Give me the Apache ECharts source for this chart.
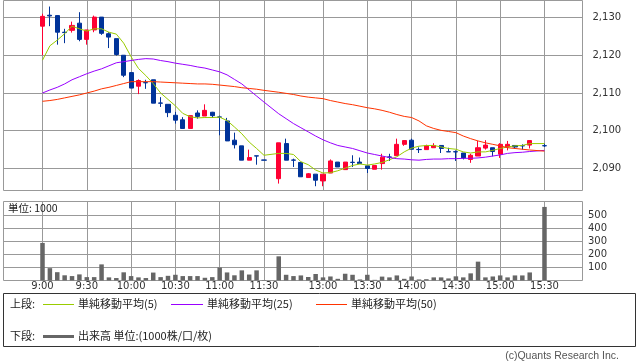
<!DOCTYPE html>
<html>
<head>
<meta charset="utf-8">
<script src="https://cdn.jsdelivr.net/npm/echarts@6/dist/echarts.min.js"></script>
<style>
html,body{margin:0;padding:0;background:#fff;}
#c{width:638px;height:362px;}
</style>
</head>
<body>
<div id="c"></div>
<script>
// ---- categories (5-minute slots; '' = break slot) ----
const times = ['9:00','9:05','9:10','9:15','9:20','9:25','9:30','9:35','9:40','9:45','9:50','9:55',
  '10:00','10:05','10:10','10:15','10:20','10:25','10:30','10:35','10:40','10:45','10:50','10:55',
  '11:00','11:05','11:10','11:15','11:20','11:25','11:30','',
  '12:30','12:35','12:40','12:45','12:50','12:55',
  '13:00','13:05','13:10','13:15','13:20','13:25','13:30','13:35','13:40','13:45','13:50','13:55',
  '14:00','14:05','14:10','14:15','14:20','14:25','14:30','14:35','14:40','14:45','14:50','14:55',
  '15:00','15:05','15:10','15:15','15:20','15:25','15:30'];
const timeTicks = ['9:00','9:30','10:00','10:30','11:00','11:30','13:00','13:30','14:00','14:30','15:00','15:30'];
const priceTicks = [2090, 2100, 2110, 2120, 2130];
const volumeTicks = [100, 200, 300, 400, 500];

// ---- OHLC per slot: [open, close, low, high] ----
const ohlc = [
  [2127.7,2130.3,2120.0,2131.0],[2130.6,2130.4,2127.7,2132.9],[2130.5,2126.1,2122.8,2130.6],[2126.1,2126.0,2123.2,2127.0],
  [2126.6,2127.9,2126.0,2128.9],[2128.5,2124.2,2123.7,2131.4],[2124.2,2126.7,2122.8,2126.7],[2126.7,2130.1,2126.1,2130.5],
  [2130.1,2125.8,2125.4,2130.1],[2125.7,2124.8,2121.9,2126.1],[2124.4,2120.2,2119.9,2124.4],[2120.0,2114.7,2114.2,2120.0],
  [2115.4,2111.3,2111.3,2115.5],[2111.8,2113.3,2109.7,2113.6],[2112.75,2112.7,2111.1,2113.5],[2113.5,2107.3,2107.3,2113.5],
  [2107.35,2107.3,2106.3,2108.9],[2107.0,2104.8,2103.6,2107.0],[2104.1,2102.8,2101.9,2105.0],[2102.9,2100.6,2100.6,2103.6],
  [2100.6,2104.0,2100.6,2104.0],[2104.7,2103.8,2103.2,2105.4],[2103.9,2105.4,2103.9,2107.0],[2104.9,2104.0,2103.4,2105.0],
  [2103.65,2103.6,2098.8,2104.0],[2102.6,2097.3,2097.3,2103.4],[2097.5,2096.3,2095.3,2099.5],[2096.0,2092.2,2092.2,2096.0],
  [2092.2,2092.9,2092.2,2095.0],[2093.35,2093.3,2091.0,2093.35],[2092.25,2092.2,2092.2,2092.25],null,
  [2087.3,2096.8,2086.0,2096.8],[2096.6,2092.2,2092.2,2097.9],[2092.25,2092.2,2090.4,2092.6],[2091.6,2087.8,2087.8,2091.6],
  [2087.6,2088.6,2087.5,2088.8],[2088.5,2086.9,2085.3,2088.5],[2086.7,2088.5,2085.3,2088.5],[2088.8,2092.0,2088.8,2092.4],
  [2091.7,2090.4,2090.4,2091.7],[2089.7,2091.7,2089.7,2091.7],[2091.65,2091.6,2090.4,2093.5],[2091.7,2091.3,2091.3,2092.9],
  [2090.7,2090.0,2088.8,2090.7],[2089.8,2090.8,2089.8,2090.8],[2091.3,2093.0,2089.7,2093.9],[2093.05,2093.0,2092.0,2093.9],
  [2093.4,2096.4,2093.4,2097.9],[2096.4,2097.4,2096.0,2097.4],[2097.5,2095.1,2095.1,2097.9],[2095.05,2095.0,2094.1,2095.6],
  [2095.0,2096.0,2095.0,2096.3],[2095.5,2096.1,2095.5,2096.7],[2096.1,2095.3,2094.1,2096.1],[2094.45,2094.4,2094.4,2095.5],
  [2094.45,2094.4,2092.0,2094.8],[2094.1,2092.8,2092.4,2094.1],[2092.4,2093.5,2091.5,2093.9],[2093.3,2095.5,2093.3,2097.3],
  [2095.4,2096.2,2095.0,2097.5],[2095.5,2094.5,2093.2,2095.5],[2093.8,2096.4,2092.8,2096.7],[2095.7,2096.4,2094.8,2097.3],
  [2096.1,2095.7,2095.3,2096.2],[2096.05,2096.0,2095.0,2096.4],[2096.2,2097.4,2095.3,2097.4],null,
  [2096.05,2096.0,2095.7,2096.6]
];

// ---- moving averages ----
const ma5 = [2118.7,2122.5,2124.0,2125.7,2127.7,2127.0,2126.4,2127.0,2127.0,2126.1,2125.6,2123.2,
  2119.6,2116.5,2114.6,2112.5,2110.0,2108.3,2106.6,2104.6,2103.7,2103.4,2103.5,2103.5,
  2103.6,2102.7,2101.0,2099.2,2097.0,2095.3,2093.5,null,
  2094.0,2094.0,2093.7,2091.8,2091.0,2089.6,
  2088.8,2088.9,2089.4,2090.1,2090.8,2091.2,2090.9,2091.2,2091.6,2092.3,2093.1,2094.4,
  2095.4,2095.9,2096.1,2096.1,2095.7,2095.3,2095.1,2094.4,2094.1,2094.4,2094.4,2094.8,
  2095.3,2095.7,2096.0,2096.1,2096.6,null,2096.6];
const ma25 = [2110.0,2110.8,2111.5,2112.4,2113.5,2114.3,2115.1,2115.8,2116.4,2117.2,2118.0,2118.3,
  2118.6,2118.9,2119.1,2119.0,2118.6,2118.3,2117.9,2117.6,2117.3,2116.9,2116.6,2116.1,
  2115.6,2114.8,2113.6,2112.4,2110.8,2109.2,2107.6,null,
  2104.5,2103.2,2101.9,2100.8,2099.7,2098.6,
  2097.6,2096.8,2096.1,2095.7,2095.3,2094.7,2094.1,2093.7,2093.3,2092.9,2092.6,2092.5,
  2092.3,2092.2,2092.4,2092.5,2092.5,2092.6,2092.6,2092.7,2092.7,2092.8,2093.0,2093.3,
  2093.6,2094.0,2094.2,2094.3,2094.5,null,2094.8];
const ma50 = [2107.8,2108.0,2108.3,2108.7,2109.1,2109.5,2110.0,2110.5,2111.1,2111.5,2112.0,2112.5,
  2113.0,2113.0,2113.0,2113.0,2112.9,2112.8,2112.7,2112.6,2112.5,2112.4,2112.4,2112.3,
  2112.1,2111.9,2111.7,2111.4,2111.2,2111.0,2110.7,null,
  2110.2,2109.9,2109.6,2109.2,2108.9,2108.7,
  2108.5,2108.0,2107.6,2107.2,2106.9,2106.5,2106.1,2105.8,2105.4,2104.9,2104.3,2103.8,
  2103.5,2102.6,2101.3,2100.6,2100.1,2099.8,2099.5,2098.6,2097.9,2097.3,2096.8,2096.4,
  2096.0,2095.5,2095.3,2095.1,2094.9,null,2094.6];

// ---- volume (units of 1000) ----
const volume = [289,95,64,40,34,47,26,26,124,24,19,63,
  34,24,19,61,26,36,44,34,34,34,21,26,
  100,62,40,78,46,78,4,null,
  186,44,34,39,27,50,
  24,31,13,52,44,8,44,5,30,24,39,13,
  31,8,10,24,24,16,32,24,55,145,24,31,
  39,24,39,39,62,null,566];

// ---- build library data ----
const tickIdx = timeTicks.map(t => times.indexOf(t));
const candleData = [];
ohlc.forEach((r, i) => { if (r) candleData.push([i, r[0], r[1], r[2], r[3]]); });
const pairs = arr => arr.map((v, i) => v == null ? null : [i, v]).filter(p => p);
const fmtComma = v => String(v).replace(/\B(?=(\d{3})+(?!\d))/g, ',');

const xMin = -5.283, xMax = 73.15;
const GRID = '#999';
const numFont = 'DejaVu Sans';
const jpFont = '"Noto Sans CJK JP", "DejaVu Sans", sans-serif';

const chart = echarts.init(document.getElementById('c'), null, {renderer: 'canvas'});
chart.setOption({
  animation: false,
  backgroundColor: '#fff',
  grid: [
    {left: 3.5, top: 0.5, width: 579, height: 190, show: true, borderColor: GRID, borderWidth: 1, backgroundColor: '#fff'},
    {left: 3.5, top: 201.5, width: 579, height: 79, show: true, borderColor: GRID, borderWidth: 1, backgroundColor: '#fff'}
  ],
  xAxis: [
    {type: 'value', gridIndex: 0, min: xMin, max: xMax,
      axisLine: {show: false}, axisTick: {show: false, customValues: tickIdx},
      axisLabel: {show: false, customValues: tickIdx},
      splitLine: {show: true, lineStyle: {color: GRID, width: 1}}},
    {type: 'value', gridIndex: 1, min: xMin, max: xMax,
      axisLine: {show: false}, axisTick: {show: false, customValues: tickIdx},
      axisLabel: {show: true, customValues: tickIdx, formatter: v => times[v], margin: 1,
        fontSize: 10, fontFamily: numFont, color: '#333'},
      splitLine: {show: true, lineStyle: {color: GRID, width: 1}}}
  ],
  yAxis: [
    {type: 'value', gridIndex: 0, position: 'right', min: 2084.17, max: 2134.5, scale: true,
      axisLine: {show: false},
      axisTick: {show: true, length: 5, customValues: priceTicks, lineStyle: {color: GRID}},
      axisLabel: {customValues: priceTicks, formatter: fmtComma, margin: 10,
        fontSize: 10, fontFamily: numFont, color: '#333'},
      splitLine: {show: true, lineStyle: {color: GRID, width: 1}}},
    {type: 'value', gridIndex: 1, position: 'right', min: 0, max: 607.7,
      axisLine: {show: false},
      axisTick: {show: false, customValues: volumeTicks},
      axisLabel: {customValues: volumeTicks, margin: 5.5,
        fontSize: 10, fontFamily: numFont, color: '#333'},
      splitLine: {show: true, lineStyle: {color: GRID, width: 1}}}
  ],
  series: [
    {type: 'candlestick', xAxisIndex: 0, yAxisIndex: 0, barWidth: 4.6,
      encode: {x: 0, y: [1, 2, 3, 4]},
      itemStyle: {color: '#ff0033', color0: '#003399', borderColor: '#ff0033', borderColor0: '#003399', borderWidth: 1},
      data: candleData, silent: true},
    {type: 'line', name: 'MA5', xAxisIndex: 0, yAxisIndex: 0, z: 3, showSymbol: false, symbol: 'none',
      lineStyle: {color: '#99cc00', width: 1}, data: pairs(ma5), silent: true},
    {type: 'line', name: 'MA25', xAxisIndex: 0, yAxisIndex: 0, z: 3, showSymbol: false, symbol: 'none',
      lineStyle: {color: '#9900ff', width: 1}, data: pairs(ma25), silent: true},
    {type: 'line', name: 'MA50', xAxisIndex: 0, yAxisIndex: 0, z: 3, showSymbol: false, symbol: 'none',
      lineStyle: {color: '#ff3300', width: 1}, data: pairs(ma50), silent: true},
    {type: 'bar', xAxisIndex: 1, yAxisIndex: 1, barWidth: 4.5,
      itemStyle: {color: '#666666'}, data: pairs(volume), silent: true}
  ],
  graphic: [
    {type: 'text', left: 8, top: 203, silent: true, z: 10,
      style: {text: '単位: 1000', font: '10.5px ' + jpFont, fill: '#222'}},
    {type: 'rect', silent: true, z: 1,
      shape: {x: 3.5, y: 293.5, width: 632, height: 53},
      style: {fill: '#fff', stroke: '#333', lineWidth: 1}},
    {type: 'text', silent: true, z: 2, x: 10, y: 304,
      style: {text: '上段:', font: '11px ' + jpFont, fill: '#222', verticalAlign: 'middle'}},
    {type: 'line', silent: true, z: 2, shape: {x1: 43, y1: 304.5, x2: 74, y2: 304.5},
      style: {stroke: '#99cc00', lineWidth: 1}},
    {type: 'text', silent: true, z: 2, x: 78, y: 304,
      style: {text: '単純移動平均(5)', font: '11px ' + jpFont, fill: '#222', verticalAlign: 'middle'}},
    {type: 'line', silent: true, z: 2, shape: {x1: 171, y1: 304.5, x2: 203, y2: 304.5},
      style: {stroke: '#9900ff', lineWidth: 1}},
    {type: 'text', silent: true, z: 2, x: 207, y: 304,
      style: {text: '単純移動平均(25)', font: '11px ' + jpFont, fill: '#222', verticalAlign: 'middle'}},
    {type: 'line', silent: true, z: 2, shape: {x1: 316, y1: 304.5, x2: 347, y2: 304.5},
      style: {stroke: '#ff3300', lineWidth: 1}},
    {type: 'text', silent: true, z: 2, x: 351, y: 304,
      style: {text: '単純移動平均(50)', font: '11px ' + jpFont, fill: '#222', verticalAlign: 'middle'}},
    {type: 'text', silent: true, z: 2, x: 10, y: 336,
      style: {text: '下段:', font: '11px ' + jpFont, fill: '#222', verticalAlign: 'middle'}},
    {type: 'line', silent: true, z: 2, shape: {x1: 43, y1: 336.5, x2: 74, y2: 336.5},
      style: {stroke: '#666666', lineWidth: 3}},
    {type: 'text', silent: true, z: 2, x: 78, y: 336,
      style: {text: '出来高 単位:(1000株/口/枚)', font: '11px ' + jpFont, fill: '#222', verticalAlign: 'middle'}},
    {type: 'text', silent: true, z: 2, x: 619, y: 356,
      style: {text: '(c)Quants Research Inc.', font: '10.5px "Liberation Sans", Arial, sans-serif', fill: '#555', align: 'right', verticalAlign: 'middle'}}
  ]
});
</script>
</body>
</html>
